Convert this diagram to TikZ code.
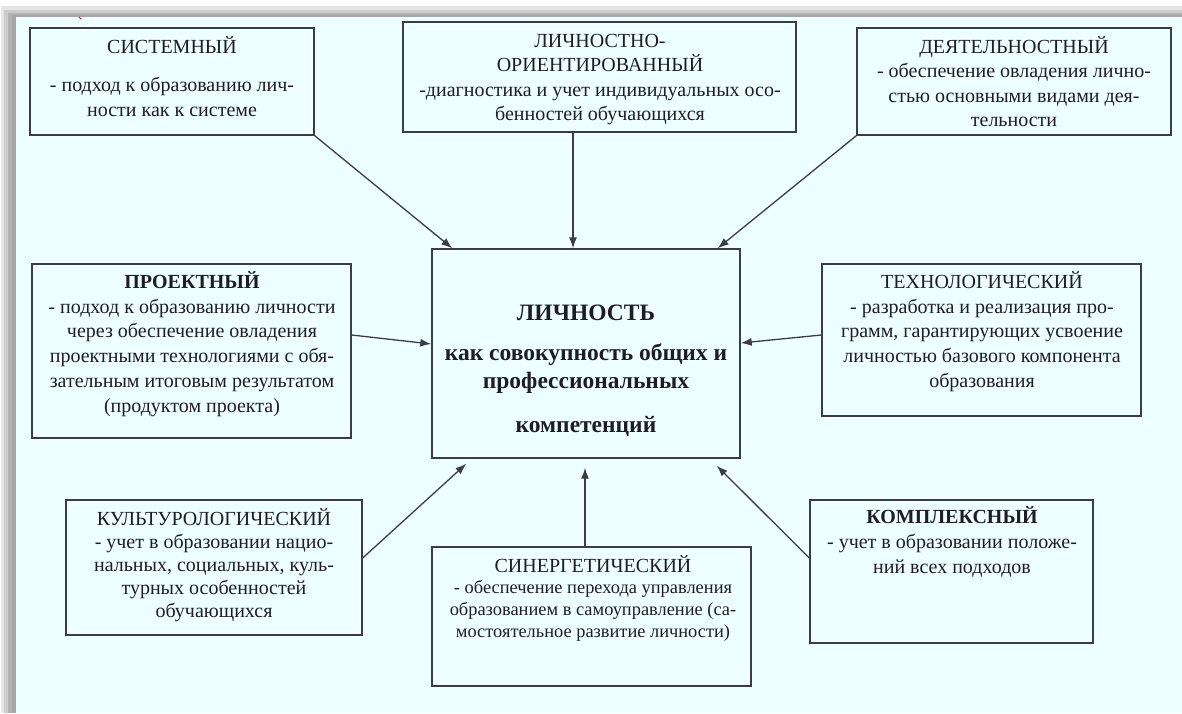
\documentclass[tikz,border=0pt]{standalone}
\usepackage{fontspec}
\setmainfont{Liberation Serif}
\usetikzlibrary{arrows.meta,fit}
\definecolor{bg}{HTML}{EEFFFF}
\definecolor{linec}{HTML}{3C3C48}
\definecolor{textc}{HTML}{1E1E22}
\newcommand{\topst}{\rule{0pt}{18pt}}
\tikzset{
  box/.style={draw=linec, line width=1.4pt, inner sep=0pt, fill=none},
  txt/.style={align=center, inner sep=0pt, text=textc, font=\fontsize{20}{24.5}\selectfont, anchor=north},
  arr/.style={draw=linec, line width=1.3pt, -{Latex[length=11pt,width=8pt]}}
}
\begin{document}
\begin{tikzpicture}[x=1pt,y=-1pt]
\useasboundingbox (0,0) rectangle (1182,713);
% background with shadow
\fill[white] (0,0) rectangle (1182,713);
\fill[gray!20] (1,6) rectangle (1182,713);
\fill[gray!40] (4,10) rectangle (1182,713);
\fill[gray!60] (8,13) rectangle (1182,713);
\fill[gray!70] (12,15) rectangle (1182,713);
\fill[bg] (16,17) rectangle (1182,713);
\draw[red, line width=1pt] (79,17) -- (81,19);

% boxes
\node[box, fit={(30,28)(314,135)}] (sys) {};
\node[box, fit={(403,22)(796,132)}] (lich) {};
\node[box, fit={(857,28)(1171,135)}] (deyat) {};
\node[box, fit={(32,264)(351,438)}] (proj) {};
\node[box, fit={(432,249)(740,458)}] (ctr) {};
\node[box, fit={(822,264)(1141,416)}] (tech) {};
\node[box, fit={(66,500)(362,635)}] (kult) {};
\node[box, fit={(432,547)(751,686)}] (syn) {};
\node[box, fit={(810,500)(1093,643)}] (kompl) {};

% texts (north = first baseline - 18)
\node[txt] (sysT) at (172,35) {\topst СИСТЕМНЫЙ\\[14pt]- подход к образованию лич-\\ности как к системе};
\node[txt] (lichT) at (600,29) {\topst ЛИЧНОСТНО-\\ОРИЕНТИРОВАННЫЙ\\-диагностика и учет индивидуальных осо-\\бенностей обучающихся};
\node[txt] (deyatT) at (1014,35) {\topst ДЕЯТЕЛЬНОСТНЫЙ\\- обеспечение овладения лично-\\стью основными видами дея-\\тельности};
\node[txt, font=\fontsize{20}{24.8}\selectfont] (projT) at (192,270) {\topst\textbf{ПРОЕКТНЫЙ}\\- подход к образованию личности\\через обеспечение овладения\\проектными технологиями с обя-\\зательным итоговым результатом\\(продуктом проекта)};
\node[txt, font=\fontsize{20}{24.8}\selectfont] (techT) at (982,270) {\topst ТЕХНОЛОГИЧЕСКИЙ\\- разработка и реализация про-\\грамм, гарантирующих усвоение\\личностью базового компонента\\образования};
\node[txt, font=\fontsize{20}{23}\selectfont] (kultT) at (214,507) {\topst КУЛЬТУРОЛОГИЧЕСКИЙ\\- учет в образовании нацио-\\нальных, социальных, куль-\\турных особенностей\\обучающихся};
\node[txt, font=\fontsize{18.4}{21.7}\selectfont] (synT) at (593,554) {\fontsize{20}{21.7}\selectfont\topst СИНЕРГЕТИЧЕСКИЙ\\\fontsize{18.4}{21.7}\selectfont - обеспечение перехода управления\\образованием в самоуправление (са-\\мостоятельное развитие личности)};
\node[txt, font=\fontsize{20}{25}\selectfont] (komplT) at (952,505) {\topst\textbf{КОМПЛЕКСНЫЙ}\\- учет в образовании положе-\\ний всех подходов};
\node[txt, font=\fontsize{23.5}{28}\selectfont\bfseries] (ctrT) at (586,302) {\topst ЛИЧНОСТЬ\\[12pt]как совокупность общих и\\профессиональных\\[16pt]компетенций};

% connectors
\draw[arr] (sys.south east) -- ([xshift=21pt]ctr.north west);
\draw[arr] ([xshift=-26.5pt]lich.south) -- ([xshift=-13pt]ctr.north);
\draw[arr] (deyat.south west) -- ([xshift=-23pt]ctr.north east);
\draw[arr] ([yshift=16pt]proj.east) -- ([yshift=9.5pt]ctr.west);
\draw[arr] ([yshift=5pt]tech.west) -- ([yshift=10.5pt]ctr.east);
\draw[arr] ([yshift=9.5pt]kult.east) -- ([xshift=35pt,yshift=-5pt]ctr.south west);
\draw[arr] ([xshift=-6.5pt]syn.north) -- ([xshift=-1pt,yshift=-9pt]ctr.south);
\draw[arr] ([yshift=13.5pt]kompl.west) -- ([xshift=-24pt,yshift=-7pt]ctr.south east);
\end{tikzpicture}
\end{document}
